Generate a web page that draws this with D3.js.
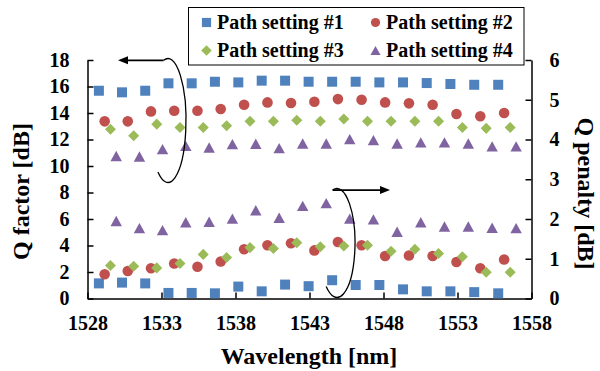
<!DOCTYPE html>
<html><head><meta charset="utf-8">
<script src="https://cdn.jsdelivr.net/npm/d3@7"></script>
<style>
html,body{margin:0;padding:0;background:#fff;}
svg{display:block;}
text{font-family:"Liberation Serif","Times New Roman",serif;font-weight:bold;fill:#000;}
</style></head>
<body>
<svg id="chart" width="600" height="371"></svg>
<script>
// Wavelengths [nm] for each path setting
const wl1 = [1528.77,1530.33,1531.90,1533.47,1535.04,1536.61,1538.19,1539.77,1541.35,1542.94,1544.53,1546.12,1547.72,1549.32,1550.92,1552.52,1554.13,1555.75];
const wl2 = [1529.16,1530.72,1532.29,1533.86,1535.43,1537.00,1538.58,1540.16,1541.75,1543.33,1544.92,1546.52,1548.11,1549.72,1551.32,1552.93,1554.54,1556.15];
const wl3 = [1529.55,1531.12,1532.68,1534.25,1535.82,1537.40,1538.98,1540.56,1542.14,1543.73,1545.32,1546.92,1548.51,1550.12,1551.72,1553.33,1554.94,1556.56];
const wl4 = [1529.94,1531.51,1533.07,1534.64,1536.22,1537.79,1539.37,1540.95,1542.54,1544.13,1545.72,1547.32,1548.92,1550.52,1552.12,1553.73,1555.34,1556.96];

// Q factor [dB] (left axis)
const q1 = [15.68,15.56,15.68,16.24,16.24,16.36,16.31,16.44,16.44,16.36,16.36,16.36,16.31,16.31,16.26,16.19,16.13,16.13];
const q2 = [13.37,13.37,14.12,14.17,14.17,14.30,14.62,14.80,14.75,14.85,15.05,15.00,14.80,14.73,14.62,13.92,13.75,14.00];
const q3 = [12.78,12.28,13.16,12.91,12.91,13.03,13.37,13.37,13.46,13.37,13.54,13.37,13.37,13.37,13.37,12.91,12.84,12.91];
const q4 = [10.76,10.72,11.27,11.52,11.40,11.65,11.68,11.35,11.70,11.70,12.03,11.95,11.70,11.78,11.78,11.70,11.48,11.48];

// Q penalty [dB] (right axis)
const p1 = [0.38,0.40,0.38,0.14,0.14,0.13,0.30,0.18,0.35,0.31,0.46,0.34,0.34,0.23,0.18,0.18,0.16,0.13];
const p2 = [0.61,0.69,0.76,0.88,0.80,0.93,1.24,1.34,1.39,1.21,1.42,1.34,1.07,1.08,1.07,0.92,0.76,0.98];
const p3 = [0.83,0.81,0.77,0.88,1.11,1.03,1.28,1.26,1.40,1.30,1.32,1.34,1.19,1.24,1.13,1.05,0.66,0.66];
const p4 = [1.95,1.77,1.72,1.92,1.93,2.01,2.22,2.03,2.33,2.40,2.01,1.99,1.68,1.92,1.81,1.81,1.78,1.77];

const seriesNames = ["Path setting #1","Path setting #2","Path setting #3","Path setting #4"];
const xTicks = [1528,1533,1538,1543,1548,1553,1558];
const yLeftTicks = [0,2,4,6,8,10,12,14,16,18];
const yRightTicks = [0,1,2,3,4,5,6];

const colors = ["#4F81BD","#C0504D","#9BBB59","#8064A2"];
const shapes = ["square","circle","diamond","triangle"];

const svg = d3.select("#chart");
const L = 87.5, R = 531.5, T = 60, B = 298.5;

const x = d3.scaleLinear().domain([1528,1558]).range([L,R]);
const yL = d3.scaleLinear().domain([0,18]).range([B,T]);
const yR = d3.scaleLinear().domain([0,6]).range([B,T]);

function markerPath(shape, s) {
  if (shape === "square") return `M${-s},${-s}H${s}V${s}H${-s}Z`;
  if (shape === "circle") return `M${-s},0A${s},${s} 0 1,0 ${s},0A${s},${s} 0 1,0 ${-s},0Z`;
  if (shape === "diamond") { const d = s*1.15; return `M0,${-d}L${d},0L0,${d}L${-d},0Z`; }
  const h = s*1.0, w = s*1.1;
  return `M0,${-h}L${w},${h}L${-w},${h}Z`;
}

// axes
const axisStyle = g => {
  g.selectAll("path.domain").attr("stroke","#000").attr("stroke-width",1.5);
  g.selectAll(".tick line").attr("stroke","#000").attr("stroke-width",1.5);
  g.selectAll(".tick text").style("font-family",'"Liberation Serif","Times New Roman",serif')
    .style("font-weight","bold").style("font-size","20px").attr("fill","#000");
};

svg.append("g").attr("transform",`translate(0,${B})`)
  .call(d3.axisBottom(x).tickValues(xTicks).tickFormat(d3.format("d")).tickSize(-6).tickSizeOuter(0).tickPadding(17))
  .call(axisStyle);

svg.append("g").attr("transform",`translate(${L},0)`)
  .call(d3.axisLeft(yL).tickValues(yLeftTicks).tickFormat(d3.format("d")).tickSize(-6).tickSizeOuter(0).tickPadding(18))
  .call(axisStyle);

svg.append("g").attr("transform",`translate(${R},0)`)
  .call(d3.axisRight(yR).tickValues(yRightTicks).tickFormat(d3.format("d")).tickSize(-6).tickSizeOuter(0).tickPadding(18))
  .call(axisStyle);

svg.selectAll("g .tick text").attr("font-size",20);

// data series
const wls = [wl1,wl2,wl3,wl4];
const qs = [q1,q2,q3,q4];
const ps = [p1,p2,p3,p4];
const sizes = [5,5.3,4.8,5.2];

const dataG = svg.append("g");
[0,1,2,3].forEach(i => {
  dataG.selectAll(null).data(wls[i].map((w,k)=>({w, v:qs[i][k]}))).enter()
    .append("path").attr("d", markerPath(shapes[i], sizes[i]))
    .attr("transform", d=>`translate(${x(d.w)},${yL(d.v)})`)
    .attr("fill", colors[i]);
});
[0,1,2,3].forEach(i => {
  dataG.selectAll(null).data(wls[i].map((w,k)=>({w, v:ps[i][k]}))).enter()
    .append("path").attr("d", markerPath(shapes[i], sizes[i]))
    .attr("transform", d=>`translate(${x(d.w)},${yR(d.v)})`)
    .attr("fill", colors[i]);
});

// annotation ellipses with arrows
function arcPath(cx, cy, rx, ry, t0, t1) {
  const r = Math.PI/180;
  const x0 = cx + rx*Math.cos(t0*r), y0 = cy + ry*Math.sin(t0*r);
  const x1 = cx + rx*Math.cos(t1*r), y1 = cy + ry*Math.sin(t1*r);
  const large = (t1 - t0) > 180 ? 1 : 0;
  return {d:`M${x0},${y0}A${rx},${ry} 0 ${large},1 ${x1},${y1}`, x0, y0};
}
const ann = svg.append("g").attr("fill","none").attr("stroke","#000");
const a1 = arcPath(168,120.5,18,62,-104,124);
ann.append("path").attr("d",a1.d).attr("stroke-width",1.3);
ann.append("line").attr("x1",a1.x0).attr("y1",a1.y0).attr("x2",126).attr("y2",a1.y0).attr("stroke-width",1.8);
svg.append("path").attr("d",`M118,${a1.y0}L128,${a1.y0-4}L128,${a1.y0+4}Z`).attr("fill","#000");

const a2 = arcPath(337,243,18,54.5,-104,127);
ann.append("path").attr("d",a2.d).attr("stroke-width",1.3);
ann.append("line").attr("x1",a2.x0).attr("y1",a2.y0).attr("x2",382).attr("y2",a2.y0).attr("stroke-width",1.8);
svg.append("path").attr("d",`M390,${a2.y0}L380,${a2.y0-4}L380,${a2.y0+4}Z`).attr("fill","#000");

// axis titles
svg.append("text").attr("transform","translate(29,191.5) rotate(-90)")
  .attr("text-anchor","middle").attr("font-size",24).text("Q factor [dB]");
svg.append("text").attr("transform","translate(578,193.5) rotate(90)")
  .attr("text-anchor","middle").attr("font-size",24).text("Q penalty [dB]");
svg.append("text").attr("x",309).attr("y",364)
  .attr("text-anchor","middle").attr("font-size",24).text("Wavelength [nm]");

// legend
const lg = svg.append("g");
lg.append("rect").attr("x",188.5).attr("y",7.5).attr("width",335.5).attr("height",57.5)
  .attr("fill","#fff").attr("stroke","#000").attr("stroke-width",1);
const legPos = [[206.5,22.5],[375.5,22.5],[206.5,50.5],[375.5,50.5]];
seriesNames.forEach((n,i) => {
  const [mx,my] = legPos[i];
  lg.append("path").attr("d", markerPath(shapes[i], 4.6)).attr("transform",`translate(${mx},${my})`).attr("fill",colors[i]);
  lg.append("text").attr("x", mx+10.5).attr("y", my+6.5).attr("font-size",20).text(n);
});
</script>
</body></html>
